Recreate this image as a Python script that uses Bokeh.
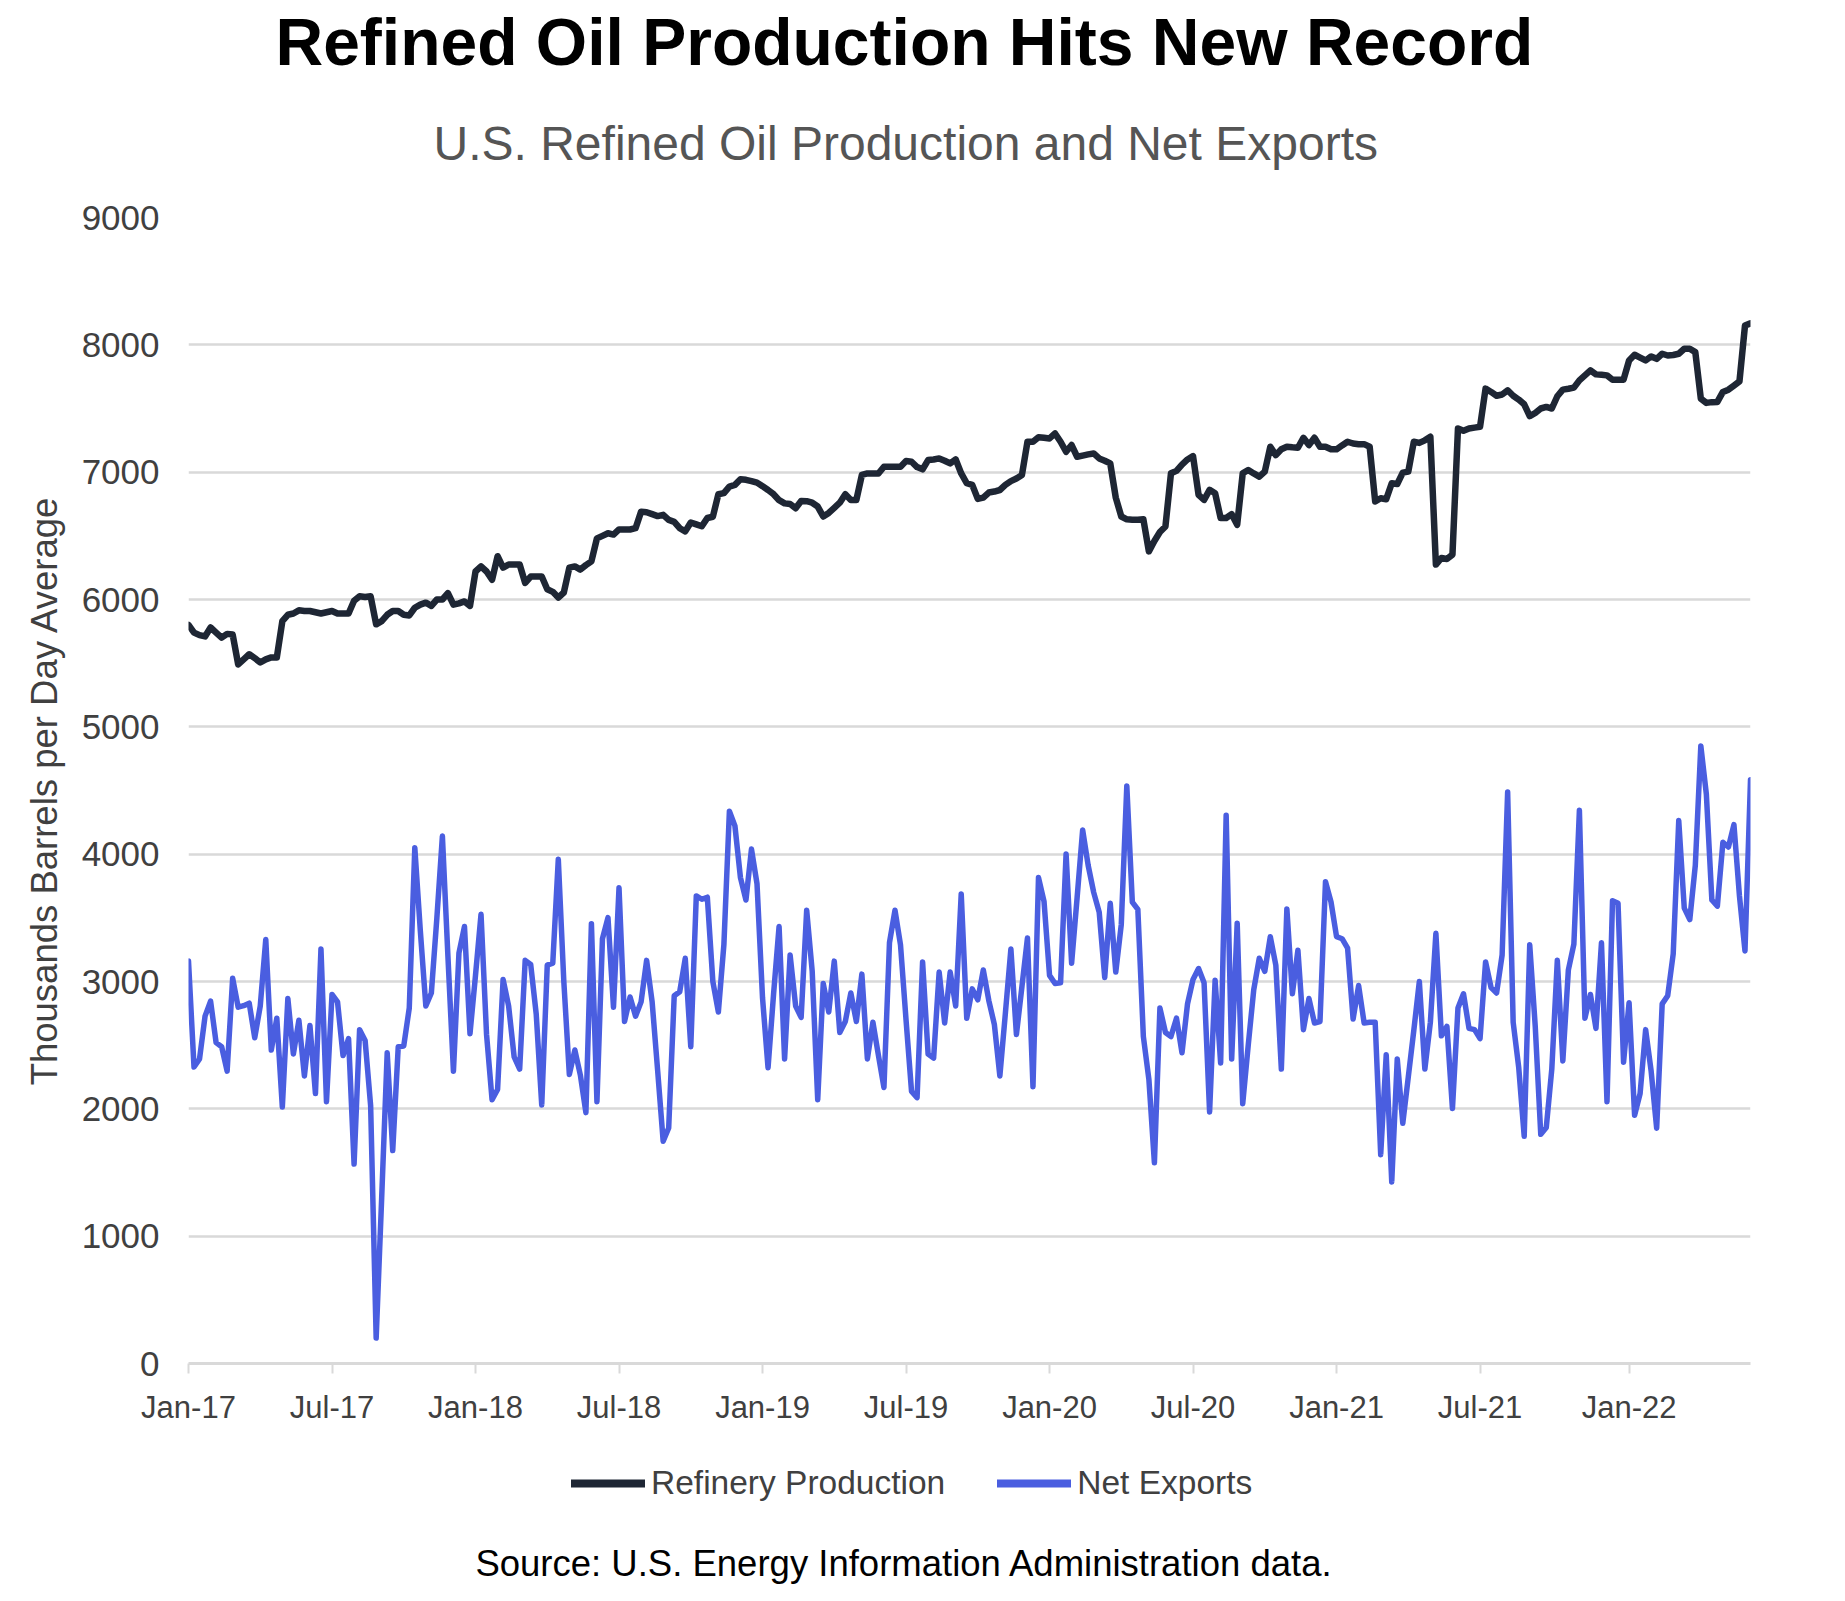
import pandas as pd
from bokeh.plotting import figure
from bokeh.layouts import column
from bokeh.models import (Range1d, Title, Legend, LegendItem, FixedTicker, Label,
                          DatetimeTickFormatter, ColumnDataSource)
from bokeh.embed import file_html
from bokeh.resources import INLINE

# ---------------- data (weekly) ----------------
START_DATE = "2017-01-06"

refinery_production = [
    5800, 5740, 5720, 5710, 5780, 5740, 5700, 5730, 5725, 5490,
    5530, 5570, 5540, 5505, 5530, 5545, 5545, 5830, 5880, 5890,
    5915, 5910, 5910, 5900, 5890, 5900, 5910, 5890, 5890, 5890,
    5990, 6025, 6020, 6025, 5805, 5830, 5880, 5910, 5910, 5880,
    5875, 5935, 5960, 5975, 5950, 6000, 6000, 6050, 5960, 5970,
    5985, 5950, 6220, 6260, 6220, 6155, 6340, 6250, 6275, 6275,
    6275, 6130, 6180, 6180, 6180, 6080, 6060, 6015, 6055, 6250,
    6260, 6235, 6270, 6300, 6480, 6500, 6520, 6510, 6550, 6550,
    6550, 6560, 6690, 6685, 6670, 6655, 6665, 6625, 6610, 6560,
    6535, 6605, 6590, 6575, 6640, 6650, 6827, 6835, 6887, 6900,
    6944, 6940, 6930, 6918, 6890, 6860, 6827, 6780, 6755, 6750,
    6717, 6774, 6772, 6760, 6730, 6652, 6680, 6720, 6760, 6827,
    6782, 6782, 6978, 6990, 6990, 6990, 7043, 7043, 7043, 7043,
    7087, 7082, 7040, 7022, 7095, 7100, 7108, 7090, 7069, 7100,
    6990, 6913, 6900, 6790, 6800, 6840, 6848, 6860, 6900, 6930,
    6950, 6978, 7239, 7239, 7275, 7270, 7265, 7304, 7239, 7160,
    7213, 7121, 7130, 7140, 7147, 7108, 7090, 7069, 6800, 6652,
    6630, 6626, 6626, 6630, 6378, 6460, 6530, 6574, 6991, 7010,
    7060, 7100, 7126, 6822, 6782, 6861, 6835, 6640, 6640, 6670,
    6587, 6991, 7017, 6990, 6965, 7004, 7200, 7134, 7180, 7200,
    7195, 7192, 7270, 7213, 7270, 7200, 7200, 7180, 7179, 7210,
    7239, 7225, 7220, 7220, 7200, 6770, 6795, 6787, 6913, 6907,
    6996, 7004, 7239, 7230, 7250, 7278, 6274, 6326, 6318, 6352,
    7343, 7325, 7343, 7350, 7356, 7656, 7630, 7600, 7610, 7643,
    7600, 7570, 7533, 7440, 7465, 7500, 7512, 7500, 7596, 7648,
    7655, 7664, 7721, 7760, 7800, 7768, 7765, 7760, 7726, 7726,
    7726, 7877, 7922, 7900, 7877, 7909, 7890, 7930, 7916, 7920,
    7930, 7969, 7969, 7943, 7578, 7544, 7550, 7552, 7630, 7648,
    7680, 7713, 8151, 8169,
]

net_exports = [
    3160, 2328, 2392, 2728, 2846, 2520, 2488, 2296, 3026, 2798,
    2810, 2830, 2558, 2808, 3330, 2462, 2712, 2014, 2866, 2430,
    2696, 2258, 2654, 2120, 3256, 2056, 2898, 2840, 2418, 2552,
    1566, 2622, 2536, 2024, 200, 1300, 2440, 1672, 2488, 2494,
    2792, 4050, 3400, 2808, 2910, 3500, 4142, 3200, 2296, 3224,
    3432, 2590, 3050, 3528, 2584, 2072, 2152, 3016, 2808, 2408,
    2312, 3166, 3134, 2744, 2030, 3128, 3144, 3960, 3000, 2270,
    2462, 2264, 1970, 3454, 2056, 3336, 3502, 2798, 3736, 2686,
    2878, 2728, 2840, 3166, 2840, 2300, 1746, 1850, 2888, 2920,
    3182, 2488, 3672, 3646, 3662, 3000, 2760, 3288, 4338, 4222,
    3816, 3640, 4040, 3768, 2872, 2322, 2900, 3432, 2392, 3208,
    2808, 2718, 3560, 3080, 2072, 2984, 2760, 3160, 2600, 2686,
    2910, 2686, 3058, 2392, 2680, 2420, 2168, 3304, 3560, 3288,
    2700, 2136, 2088, 3154, 2430, 2398, 3074, 2674, 3074, 2808,
    3688, 2712, 2942, 2856, 3090, 2850, 2664, 2258, 2750, 3256,
    2584, 2960, 3342, 2174, 3816, 3630, 3048, 2984, 2990, 4002,
    3144, 3660, 4190, 3912, 3700, 3544, 3032, 3614, 3074, 3448,
    4536, 3624, 3566, 2568, 2232, 1576, 2792, 2600, 2568, 2712,
    2440, 2824, 3016, 3102, 2990, 1976, 3010, 2360, 4306, 2392,
    3458, 2040, 2500, 2936, 3182, 3080, 3352, 3128, 2312, 3570,
    2904, 3246, 2622, 2866, 2674, 2686, 3784, 3624, 3352, 3336,
    3262, 2706, 2968, 2674, 2680, 2680, 1640, 2424, 1426, 2392,
    1886, 2250, 2616, 3000, 2312, 2680, 3378, 2574, 2648, 2002,
    2792, 2904, 2632, 2622, 2552, 3154, 2952, 2910, 3208, 4488,
    2680, 2328, 1784, 3288, 2648, 1800, 1854, 2312, 3166, 2376,
    3090, 3294, 4344, 2712, 2898, 2632, 3304, 2056, 3634, 3614,
    2366, 2834, 1950, 2120, 2622, 2296, 1848, 2824, 2888, 3218,
    4264, 3576, 3486, 3912, 4850, 4472, 3640, 3592, 4094, 4056,
    4232, 3672, 3240, 4584,
]

x_tick_labels = ["Jan-17", "Jul-17", "Jan-18", "Jul-18", "Jan-19", "Jul-19",
                 "Jan-20", "Jul-20", "Jan-21", "Jul-21", "Jan-22"]
y_ticks = [0, 1000, 2000, 3000, 4000, 5000, 6000, 7000, 8000, 9000]

series_names = ["Refinery Production", "Net Exports"]
title_text = "Refined Oil Production Hits New Record"
subtitle_text = "U.S. Refined Oil Production and Net Exports"
source_text = "Source: U.S. Energy Information Administration data."
y_axis_title = "Thousands Barrels per Day Average"

# ---------------- build ----------------
dates = pd.date_range(START_DATE, periods=len(refinery_production), freq="7D")
src = ColumnDataSource(dict(date=dates, prod=refinery_production, exp=net_exports))

# first weekly observation in each labelled month
tick_ms = []
for lab in x_tick_labels:
    m = pd.to_datetime(lab, format="%b-%y")
    first = dates[dates >= m][0]
    tick_ms.append(first.value // 10**6)

FONT = "Liberation Sans"
DARK = "#1e2634"
BLUE = "#4a5ee0"
GRID = "#d9d9d9"
TXT = "#404040"

p = figure(frame_width=1562, frame_height=1146, x_axis_type="datetime",
           output_backend="svg", toolbar_location=None, title=None,
           x_range=Range1d(dates[0], dates[-1]), y_range=Range1d(0, 9000),
           min_border_left=188, min_border_right=79,
           min_border_top=0, min_border_bottom=0)
p.outline_line_color = None
p.background_fill_color = "white"
p.border_fill_color = "white"

r1 = p.line("date", "prod", source=src, line_color=DARK, line_width=6.5,
            line_join="round", line_cap="round")
r2 = p.line("date", "exp", source=src, line_color=BLUE, line_width=5.5,
            line_join="round", line_cap="round")

# grid
p.xgrid.grid_line_color = None
p.ygrid.grid_line_color = GRID
p.ygrid.grid_line_width = 2.5
p.ygrid.ticker = FixedTicker(ticks=y_ticks)

# y axis
ya = p.yaxis[0]
ya.ticker = FixedTicker(ticks=y_ticks)
ya.axis_line_color = None
ya.major_tick_line_color = None
ya.major_tick_out = 0
ya.major_tick_in = 0
ya.minor_tick_line_color = None
ya.major_label_text_font = FONT
ya.major_label_text_font_size = "35px"
ya.major_label_text_color = TXT
ya.major_label_standoff = 29
ya.axis_label = y_axis_title
ya.axis_label_text_font = FONT
ya.axis_label_text_font_size = "36.5px"
ya.axis_label_text_font_style = "normal"
ya.axis_label_text_color = TXT
ya.axis_label_standoff = 14

# x axis
xa = p.xaxis[0]
xa.ticker = FixedTicker(ticks=tick_ms)
fmt = "%b-%y"
xa.formatter = DatetimeTickFormatter(microseconds=fmt, milliseconds=fmt, seconds=fmt,
                                     minsec=fmt, minutes=fmt, hourmin=fmt, hours=fmt,
                                     days=fmt, months=fmt, years=fmt)
xa.axis_line_color = GRID
xa.axis_line_width = 3
xa.major_tick_line_color = GRID
xa.major_tick_line_width = 2
xa.major_tick_in = 0
xa.major_tick_out = 10
xa.minor_tick_line_color = None
xa.major_label_text_font = FONT
xa.major_label_text_font_size = "31px"
xa.major_label_text_color = TXT
xa.major_label_standoff = 16

# titles (first added sits nearest the plot)
p.add_layout(Title(text=" ", text_font_size="2px", standoff=6), "above")
p.add_layout(Title(text=subtitle_text, text_font=FONT, text_font_size="48px",
                   text_font_style="normal", text_color="#555555",
                   align="left", offset=245, vertical_align="top", standoff=72), "above")
p.add_layout(Title(text=title_text, text_font=FONT, text_font_size="66px",
                   text_font_style="bold", text_color="black",
                   align="left", offset=87, vertical_align="bottom", standoff=4), "above")

# ---------------- legend + source strip below the chart ----------------
p2 = figure(width=1829, height=176, output_backend="svg", toolbar_location=None,
            x_axis_location=None, y_axis_location=None, min_border=0,
            x_range=Range1d(0, 1), y_range=Range1d(0, 1))
p2.outline_line_color = None
p2.grid.visible = False
# legend keys: one point each, placed outside the visible range (nothing drawn)
k1 = p2.line(x=[-5], y=[-5], line_color=DARK, line_width=8, line_cap="round")
k2 = p2.line(x=[-5], y=[-5], line_color=BLUE, line_width=8, line_cap="round")

legend = Legend(items=[LegendItem(label=series_names[0], renderers=[k1]),
                       LegendItem(label=series_names[1], renderers=[k2])],
                location=(383, 101), orientation="horizontal",
                border_line_color=None, background_fill_alpha=0,
                padding=0, margin=0, spacing=52, label_standoff=6,
                glyph_width=74, glyph_height=34, label_height=34,
                label_text_font=FONT, label_text_font_size="33.5px",
                label_text_color=TXT)
p2.add_layout(legend)

p2.add_layout(Label(x=716, y=40, x_units="screen", y_units="screen", text=source_text,
                    text_align="center", text_baseline="alphabetic",
                    text_font=FONT, text_font_size="36.5px", text_color="black"))

layout = column(p, p2, spacing=0)
open("out.html", "w").write(file_html(layout, INLINE))
